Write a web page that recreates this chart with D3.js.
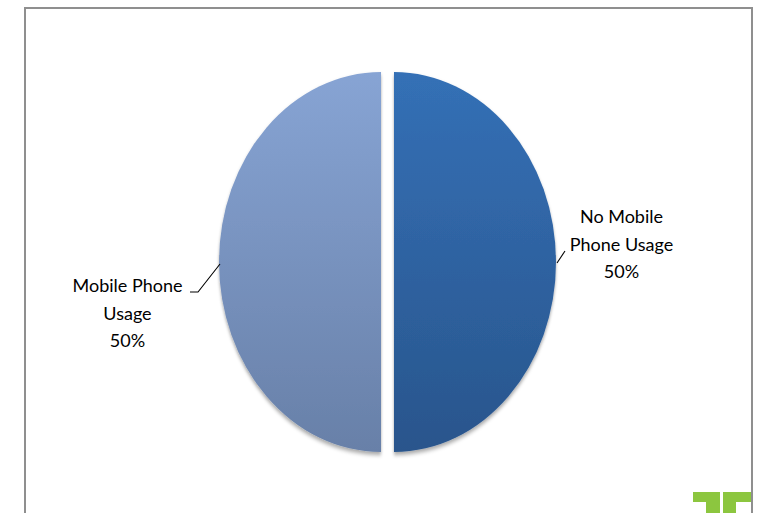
<!DOCTYPE html>
<html>
<head>
<meta charset="utf-8">
<script src="https://d3js.org/d3.v7.min.js"></script>
<style>
  body { margin: 0; background: #fff; }
  svg { display: block; }
</style>
</head>
<body>
<script>
// Chart data
var categories = ["No Mobile Phone Usage", "Mobile Phone Usage"];
var values = [50, 50];
var labelLines = [["No Mobile", "Phone Usage", "50%"], ["Mobile Phone", "Usage", "50%"]];
var topColors = ["#3470b6", "#87a4d4"];
var bottomColors = ["#29558c", "#6880a8"];

var width = 757;
var height = 513;

var svg = d3.select("body")
  .append("svg")
  .attr("width", width)
  .attr("height", height);

// chart frame (bottom runs off the picture)
svg.append("rect")
  .attr("x", 25)
  .attr("y", 8)
  .attr("width", 727)
  .attr("height", 530)
  .style("fill", "none")
  .style("stroke", "#8f8f8f")
  .style("stroke-width", 2);

var defs = svg.append("defs");

categories.forEach(function(c, i) {
  var g = defs.append("linearGradient")
    .attr("id", "grad" + i)
    .attr("x1", 0).attr("y1", 0)
    .attr("x2", 0).attr("y2", 1);
  g.append("stop").attr("offset", "0%").attr("stop-color", topColors[i]);
  g.append("stop").attr("offset", "100%").attr("stop-color", bottomColors[i]);
});

var shadow = defs.append("filter")
  .attr("id", "shadow")
  .attr("x", "-20%").attr("y", "-20%")
  .attr("width", "140%").attr("height", "140%");
shadow.append("feDropShadow")
  .attr("dx", 0)
  .attr("dy", 2.5)
  .attr("stdDeviation", 1.8)
  .attr("flood-color", "#000")
  .attr("flood-opacity", 0.35);

// pie geometry (the original is stretched vertically)
var cx = 387.5;
var cy = 262;
var radius = 162;
var stretch = 190 / 162;
var explode = 6.5;

var pie = d3.pie().sort(null).value(function(d) { return d; });
var arc = d3.arc().innerRadius(0).outerRadius(radius);
var arcs = pie(values);

var pieG = svg.append("g")
  .attr("transform", "translate(" + cx + "," + cy + ") scale(1," + stretch + ")");

pieG.selectAll("path")
  .data(arcs)
  .enter().append("path")
  .attr("d", arc)
  .attr("transform", function(d) {
    var a = (d.startAngle + d.endAngle) / 2;
    return "translate(" + (Math.sin(a) * explode) + "," + (-Math.cos(a) * explode) + ")";
  })
  .style("fill", function(d, i) { return "url(#grad" + i + ")"; })
  .style("filter", "url(#shadow)");

// leader lines and labels
var labelX = [621.5, 127.5];
var labelY = [223, 292];
var lineGap = 27.5;

arcs.forEach(function(d, i) {
  var a = (d.startAngle + d.endAngle) / 2;
  var ex = cx + Math.sin(a) * (radius + explode);
  var ey = cy - Math.cos(a) * (radius + explode) * stretch;
  var pts;
  if (Math.sin(a) > 0) {
    pts = [[ex + 1, ey + 1], [ex + 9, ey - 11]];
  } else {
    pts = [[ex + 1, ey + 2], [ex - 21, ey + 30], [ex - 29, ey + 30]];
  }
  svg.append("path")
    .attr("d", d3.line()(pts))
    .style("fill", "none")
    .style("stroke", "#000")
    .style("stroke-width", 1.1);

  var t = svg.append("text")
    .attr("text-anchor", "middle")
    .style("font-family", "Lato, 'Open Sans', sans-serif")
    .style("font-size", "18px")
    .style("fill", "#000");
  labelLines[i].forEach(function(s, j) {
    t.append("tspan")
      .attr("x", labelX[i])
      .attr("y", labelY[i] + j * lineGap)
      .text(s);
  });
});

// green logo in the corner
var logo = svg.append("g").style("fill", "#8cc63f");
logo.append("rect").attr("x", 693).attr("y", 492).attr("width", 27).attr("height", 10);
logo.append("rect").attr("x", 706).attr("y", 502).attr("width", 14).attr("height", 11);
logo.append("rect").attr("x", 723).attr("y", 492).attr("width", 28).attr("height", 10);
logo.append("rect").attr("x", 723).attr("y", 502).attr("width", 13).attr("height", 11);
</script>
</body>
</html>
